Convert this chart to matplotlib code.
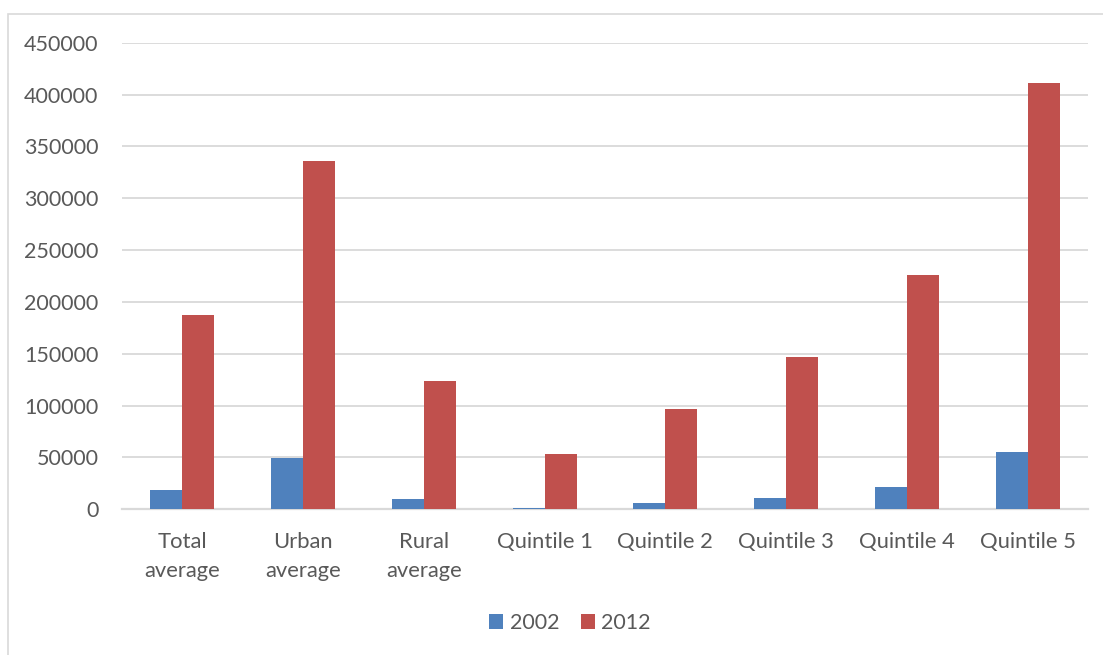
import matplotlib.pyplot as plt
import matplotlib.patches as mpatches
import numpy as np

categories = ['Total\naverage', 'Urban\naverage', 'Rural\naverage', 'Quintile 1',
              'Quintile 2', 'Quintile 3', 'Quintile 4', 'Quintile 5']
v2002 = [18500, 49000, 9800, 1500, 6000, 11000, 21500, 55000]
v2012 = [187000, 336000, 124000, 53000, 97000, 147000, 226000, 411500]
yticks = [0, 50000, 100000, 150000, 200000, 250000, 300000, 350000, 400000, 450000]

plt.rcParams['font.family'] = ['Lato', 'DejaVu Sans']
txt = '#595959'

fig = plt.figure(figsize=(11.03, 6.55), dpi=100)
ax = fig.add_axes([122/1103, 1 - 509.3/655, 966/1103, 466.6/655])

# light frame around the chart
fig.patches.append(mpatches.Rectangle((8/1103, -0.1), 1.2, 1 - 14/655 + 0.1,
                                      transform=fig.transFigure, fill=False,
                                      edgecolor='#d9d9d9', linewidth=1.2))

x = np.arange(len(categories))
w = 0.265
ax.bar(x - w/2, v2002, w, color='#4F81BD', label='2002', zorder=3)
ax.bar(x + w/2, v2012, w, color='#C0504D', label='2012', zorder=3)

ax.set_xlim(-0.5, len(categories) - 0.5)
ax.set_ylim(0, 450000)
ax.set_yticks(yticks)
ax.set_yticklabels([str(t) for t in yticks], fontsize=15.5, color=txt)
ax.set_xticks(x)
ax.set_xticklabels(categories, fontsize=15.8, color=txt, linespacing=1.6)
ax.tick_params(length=0)
ax.tick_params(axis='y', pad=17)
ax.tick_params(axis='x', pad=16)
ax.grid(axis='y', color='#d9d9d9', linewidth=1.3, zorder=0)
for s in ['top', 'right', 'left']:
    ax.spines[s].set_visible(False)
ax.spines['bottom'].set_color('#d9d9d9')
ax.spines['bottom'].set_linewidth(1.6)

leg = fig.legend(loc='center', bbox_to_anchor=(570/1103, 1 - 623/655), ncol=2,
                 frameon=False, fontsize=15.5, handlelength=0.65, handleheight=0.65,
                 handletextpad=0.3, columnspacing=1.0)
for t in leg.get_texts():
    t.set_color(txt)

fig.savefig('out.png', dpi=100)
